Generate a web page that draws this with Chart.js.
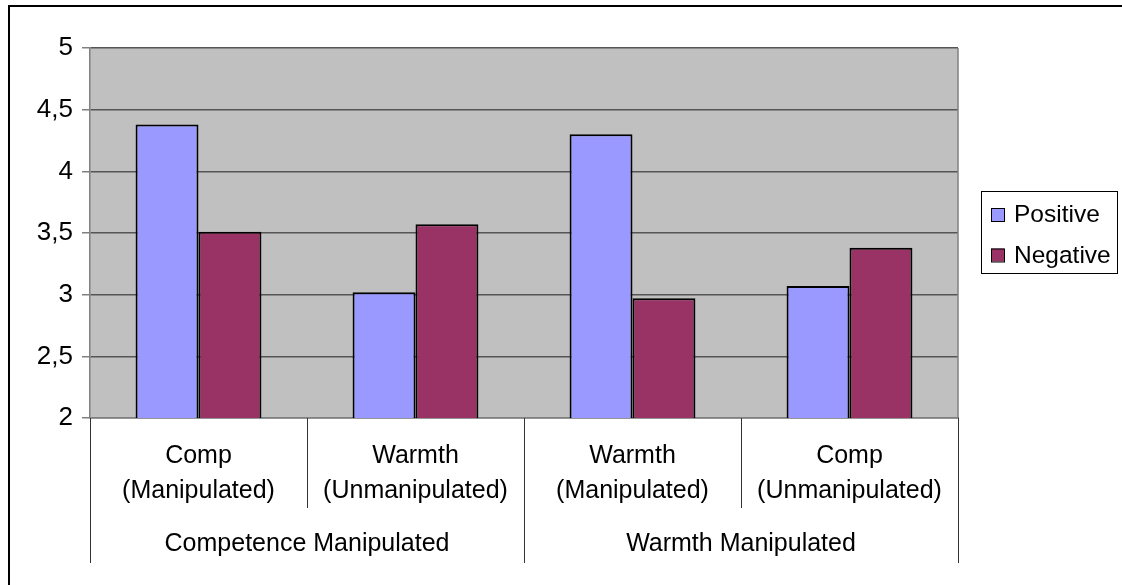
<!DOCTYPE html>
<html>
<head>
<meta charset="utf-8">
<script src="https://cdn.jsdelivr.net/npm/chart.js@4/dist/chart.umd.min.js"></script>
<style>
  html, body { margin: 0; padding: 0; background: #fff; overflow: hidden; }
  #wrap { position: relative; width: 1122px; height: 585px; }
  #frame { position: absolute; left: 8px; top: 5px; width: 1300px; height: 800px;
           border-left: 2px solid #000; border-top: 2px solid #000; pointer-events: none; }
  canvas { position: absolute; left: 0; top: 0; }
</style>
</head>
<body>
<div id="wrap">
  <canvas id="chart" width="1122" height="585"></canvas>
  <div id="frame"></div>
</div>
<script>
const categories = [
  ["Comp", "(Manipulated)"],
  ["Warmth", "(Unmanipulated)"],
  ["Warmth", "(Manipulated)"],
  ["Comp", "(Unmanipulated)"]
];
const groups = ["Competence Manipulated", "Warmth Manipulated"];
const groupSize = 2;
const positive = [4.38, 3.02, 4.30, 3.07];
const negative = [3.51, 3.57, 2.97, 3.38];
const seriesNames = ["Positive", "Negative"];
const seriesColors = ["#9999FF", "#993366"];

const FONT = "'Liberation Sans', Arial, sans-serif";

// grey plot background
const plotBg = {
  id: "plotBg",
  beforeDraw(chart) {
    const a = chart.chartArea, ctx = chart.ctx;
    ctx.save();
    ctx.fillStyle = "#C0C0C0";
    ctx.fillRect(a.left, a.top, a.right - a.left, a.bottom - a.top);
    ctx.restore();
  }
};

// right border, category separators, group labels, legend box
const extras = {
  id: "extras",
  afterDraw(chart) {
    const a = chart.chartArea, ctx = chart.ctx;
    const xs = chart.scales.x;
    ctx.save();

    ctx.strokeStyle = "#808080";
    ctx.lineWidth = 1.5;
    ctx.beginPath();
    ctx.moveTo(a.right, a.top);
    ctx.lineTo(a.right, a.bottom);
    ctx.stroke();

    // separators below the axis
    ctx.strokeStyle = "#333";
    ctx.lineWidth = 1;
    const n = categories.length;
    for (let i = 0; i <= n; i++) {
      let x;
      if (i === 0) x = a.left;
      else if (i === n) x = a.right;
      else x = (xs.getPixelForValue(i - 1) + xs.getPixelForValue(i)) / 2;
      const full = i % groupSize === 0;
      x = Math.round(x) + 0.5;
      ctx.beginPath();
      ctx.moveTo(x, a.bottom);
      ctx.lineTo(x, a.bottom + (full ? 145 : 90));
      ctx.stroke();
    }

    // group labels
    ctx.fillStyle = "#000";
    ctx.font = "25px " + FONT;
    ctx.textAlign = "center";
    ctx.textBaseline = "middle";
    groups.forEach((g, gi) => {
      const first = gi * groupSize, last = first + groupSize - 1;
      const cx = (xs.getPixelForValue(first) + xs.getPixelForValue(last)) / 2;
      ctx.fillText(g, cx, a.bottom + 126);
    });

    // legend
    const lx = a.right + 23, ly = 191, lw = 136, lh = 82;
    ctx.strokeStyle = "#000";
    ctx.lineWidth = 1;
    ctx.strokeRect(lx + 0.5, ly + 0.5, lw, lh);
    ctx.textAlign = "left";
    ctx.font = "24.5px " + FONT;
    seriesNames.forEach((name, i) => {
      const cy = ly + 23.5 + i * 40.5;
      ctx.fillStyle = seriesColors[i];
      ctx.fillRect(lx + 10, cy - 6.5, 13, 13);
      ctx.strokeRect(lx + 10.5, cy - 6, 13, 13);
      ctx.fillStyle = "#000";
      ctx.fillText(name, lx + 33, cy + 1);
    });
    ctx.restore();
  }
};

new Chart(document.getElementById("chart"), {
  type: "bar",
  data: {
    labels: categories,
    datasets: [
      { label: seriesNames[0], data: positive, backgroundColor: seriesColors[0],
        borderColor: "#000", borderWidth: 2 },
      { label: seriesNames[1], data: negative, backgroundColor: seriesColors[1],
        borderColor: "#000", borderWidth: 2 }
    ]
  },
  options: {
    responsive: false,
    animation: false,
    devicePixelRatio: 1,
    layout: { padding: { top: 48, right: 164, left: 0, bottom: 0 } },
    datasets: { bar: { categoryPercentage: 0.58, barPercentage: 1 } },
    plugins: { legend: { display: false }, tooltip: { enabled: false } },
    scales: {
      x: {
        grid: { display: false, drawTicks: false },
        border: { display: true, color: "#808080", width: 1.5 },
        ticks: { color: "#000", font: { family: FONT, size: 25, lineHeight: 1.4 },
                 padding: 21, maxRotation: 0, autoSkip: false },
        afterFit(s) { s.height = 167; }
      },
      y: {
        min: 2, max: 5,
        ticks: { stepSize: 0.5, color: "#000", padding: 9,
                 font: { family: FONT, size: 26 },
                 callback: v => String(v).replace(".", ",") },
        grid: { color: "#555", lineWidth: 1.5, tickLength: 8, tickColor: "#808080" },
        border: { display: true, color: "#808080", width: 1.5 },
        afterFit(s) { s.width = 90; }
      }
    }
  },
  plugins: [plotBg, extras]
});
</script>
</body>
</html>
